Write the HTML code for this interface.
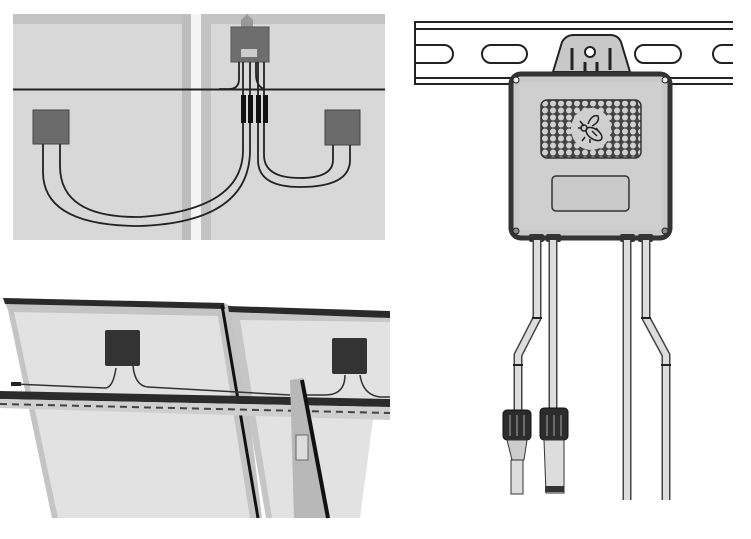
<!DOCTYPE html>
<html><head><meta charset="utf-8"><style>html,body{margin:0;padding:0;background:#fff;width:751px;height:539px;overflow:hidden}</style></head>
<body>
<svg width="751" height="539" viewBox="0 0 751 539" xmlns="http://www.w3.org/2000/svg">
<defs>
<pattern id="hc" x="541" y="100" width="8" height="7" patternUnits="userSpaceOnUse">
<rect width="8" height="7" fill="#444"/>
<circle cx="4" cy="3.5" r="3" fill="#d0d0d0"/>
</pattern>
</defs>
<!-- TOP LEFT -->
<rect x="13" y="14" width="372" height="226" fill="#d8d8d8"/>
<rect x="13" y="14" width="372" height="10" fill="#c3c3c3"/>
<rect x="182" y="14" width="9" height="226" fill="#bdbdbd"/>
<rect x="191" y="14" width="10" height="226" fill="#f4f4f4"/>
<rect x="201" y="14" width="10" height="226" fill="#c3c3c3"/>
<line x1="13" y1="89.5" x2="385" y2="89.5" stroke="#222" stroke-width="2"/>
<path d="M247 14 l-6 6 v8 h12 v-8z" fill="#999"/>
<rect x="231" y="27" width="38" height="35" fill="#6e6e6e" stroke="#555"/>
<rect x="241" y="49" width="16" height="8" fill="#ccc"/>
<rect x="33" y="110" width="36" height="34" fill="#6b6b6b" stroke="#444"/>
<rect x="325" y="110" width="35" height="35" fill="#6b6b6b" stroke="#444"/>
<g fill="none" stroke="#222" stroke-width="1.8">
<path d="M239 62 v17 q0 10 -10 10 h-10"/>
<path d="M43 144 V172 Q43 226 140 226 Q250 222 250 150 V62"/>
<path d="M60 144 V166 Q60 218 140 217 Q243 210 243 150 V62"/>
<path d="M256 62 v12 q0 12 8 15"/>
<path d="M258 62 V160 Q258 187 300 187 Q350 187 350 160 V145"/>
<path d="M264 62 V155 Q264 178 300 178 Q333 178 333 160 V145"/>
</g>
<g fill="#111"><rect x="241" y="95" width="5" height="28"/><rect x="248" y="95" width="5" height="28"/><rect x="256" y="95" width="5" height="28"/><rect x="263" y="95" width="5" height="28"/></g>
<!-- TOP RIGHT rail -->
<g fill="none" stroke="#222" stroke-width="2">
<path d="M733 22 H415 V84 H733"/>
<line x1="415" y1="29" x2="733" y2="29"/>
<line x1="415" y1="78" x2="733" y2="78"/>
<path d="M415 45 H444 a9 9 0 0 1 0 18 H415"/>
<rect x="482" y="45" width="45" height="18" rx="9"/>
<rect x="635" y="45" width="46" height="18" rx="9"/>
<path d="M733 45 H722 a9 9 0 0 0 0 18 H733"/>
</g>
<path d="M553 72 L562 42 Q566 35 574 35 H610 Q618 35 621 42 L630 72Z" fill="#c8c8c8" stroke="#222" stroke-width="2"/>
<circle cx="590" cy="52" r="5" fill="#fff" stroke="#222" stroke-width="2"/>
<g stroke="#222" stroke-width="3"><line x1="572" y1="48" x2="572" y2="70"/><line x1="610" y1="48" x2="610" y2="70"/><line x1="585" y1="62" x2="585" y2="72"/><line x1="597" y1="62" x2="597" y2="72"/></g>
<rect x="511" y="74" width="159" height="164" rx="10" fill="#c9c9c9" stroke="#333" stroke-width="5"/>
<rect x="519" y="82" width="143" height="148" rx="4" fill="#cfcfcf"/>
<circle cx="516" cy="80" r="3" fill="#eee" stroke="#222"/><circle cx="665" cy="80" r="3" fill="#eee" stroke="#222"/>
<circle cx="516" cy="231" r="3" fill="#888" stroke="#222"/><circle cx="665" cy="231" r="3" fill="#888" stroke="#222"/>
<rect x="541" y="100" width="100" height="58" rx="6" fill="url(#hc)" stroke="#333" stroke-width="1.5"/>
<ellipse cx="591" cy="129" rx="20" ry="21" fill="#cfcfcf"/>
<g fill="none" stroke="#222" stroke-width="1.5">
<ellipse cx="594" cy="134" rx="9" ry="5" transform="rotate(35 594 134)"/>
<circle cx="584" cy="128" r="3"/>
<path d="M588 124 q4 -10 10 -8 q2 6 -6 10"/>
<path d="M580 121 l4 5 M578 128 l4 0 M585 137 l-3 4 M590 139 l0 4"/>
<path d="M592 131 l5 5 M596 128 l4 5"/>
</g>
<rect x="552" y="176" width="77" height="35" rx="4" fill="#c9c9c9" stroke="#333" stroke-width="1.5"/>
<g fill="#333"><rect x="529" y="234" width="15" height="8" rx="2"/><rect x="546" y="234" width="15" height="8" rx="2"/><rect x="620" y="234" width="15" height="8" rx="2"/><rect x="638" y="234" width="15" height="8" rx="2"/></g>
<g fill="none" stroke="#444" stroke-width="9" stroke-linejoin="round"><path d="M537 240 V318 L518 355 V410"/><path d="M553 240 V410"/><path d="M627 240 V500"/><path d="M646 240 V318 L666 355 V500"/></g>
<g fill="none" stroke="#ddd" stroke-width="6" stroke-linejoin="round"><path d="M537 240 V318 L518 355 V410"/><path d="M553 240 V410"/><path d="M627 240 V500"/><path d="M646 240 V318 L666 355 V500"/></g>
<g stroke="#222" stroke-width="2"><line x1="532" y1="318" x2="542" y2="318"/><line x1="513" y1="365" x2="523" y2="365"/><line x1="641" y1="318" x2="651" y2="318"/><line x1="661" y1="365" x2="671" y2="365"/></g>
<g fill="#2c2c2c" stroke="#111"><rect x="503" y="410" width="28" height="30" rx="4"/><rect x="540" y="408" width="28" height="32" rx="4"/></g>
<g stroke="#aaa" stroke-width="1"><line x1="510" y1="415" x2="510" y2="436"/><line x1="517" y1="415" x2="517" y2="436"/><line x1="524" y1="415" x2="524" y2="436"/><line x1="547" y1="415" x2="547" y2="436"/><line x1="554" y1="415" x2="554" y2="436"/><line x1="561" y1="415" x2="561" y2="436"/></g>
<path d="M507 440 H527 L524 460 H512 Z" fill="#ccc" stroke="#333"/>
<rect x="511" y="460" width="12" height="34" fill="#ddd" stroke="#333"/>
<path d="M544 440 H564 V493 H546 Z" fill="#ddd" stroke="#333"/>
<rect x="545" y="486" width="19" height="6" fill="#333"/>
<!-- BOTTOM LEFT -->
<polygon points="3,298 224,303 236,308 262,518 52,518 8,310" fill="#c4c4c4"/>
<polygon points="14,312 218,316 250,518 58,518" fill="#e2e2e2"/>
<polygon points="3,298 224,303 225,309 5,304" fill="#2a2a2a"/>
<line x1="222" y1="305" x2="258" y2="518" stroke="#111" stroke-width="3"/>
<polygon points="228,307 390,312 390,518 266,518 231,315" fill="#c6c6c6"/>
<polygon points="240,320 390,322 390,518 272,518" fill="#e2e2e2"/>
<polygon points="228,306 390,311 390,318 229,312" fill="#2a2a2a"/>
<polygon points="373,420 390,410 390,518 360,518" fill="#fff"/>
<rect x="105" y="330" width="35" height="36" rx="2" fill="#333"/>
<rect x="332" y="338" width="35" height="36" rx="2" fill="#333"/>
<g fill="none" stroke="#333" stroke-width="1.5"><path d="M14 384 L105 388 q8 0 11 -20"/><path d="M133 366 q2 20 15 21 L290 395"/><path d="M345 375 q0 20 -20 20 H300"/><path d="M360 375 q3 20 20 22 H390"/></g>
<rect x="11" y="382" width="10" height="4" fill="#222"/>
<polygon points="0,391 390,399 390,407 0,399" fill="#2b2b2b"/>
<polygon points="0,399 390,407 390,420 0,408" fill="#cfcfcf"/>
<line x1="0" y1="404" x2="390" y2="413" stroke="#444" stroke-width="2" stroke-dasharray="7 5"/>
<polygon points="290,380 303,378 330,518 294,518" fill="#b8b8b8"/>
<line x1="302" y1="380" x2="328" y2="518" stroke="#111" stroke-width="4"/>
<rect x="296" y="435" width="12" height="25" fill="#ddd" stroke="#666"/>
</svg>
</body></html>
